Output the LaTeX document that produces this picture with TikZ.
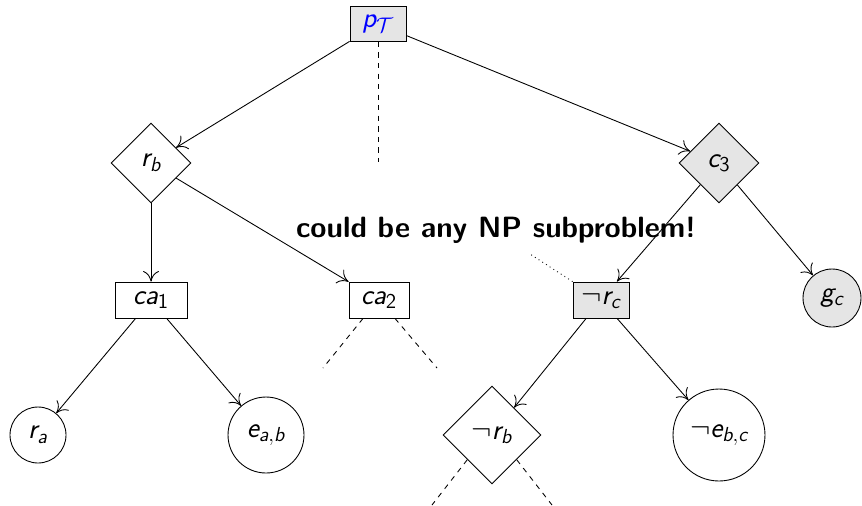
\documentclass[tikz,border=0pt]{standalone}
\usepackage{amssymb}
\usetikzlibrary{shapes.geometric, arrows.meta}

\DeclareMathAlphabet{\mathsfit}{\encodingdefault}{\sfdefault}{m}{sl}
\newcommand{\sv}[1]{\mathsfit{#1}}

\tikzset{
  lbl/.style={font=\fontsize{16.5}{20}\selectfont},
  sq/.style={draw, rectangle, minimum height=0.72cm, inner sep=1pt, lbl},
  dia/.style={draw, diamond, aspect=1, inner sep=0pt, lbl},
  leaf/.style={draw, circle, inner sep=0pt, lbl},
  shade/.style={fill=gray!20},
  edge/.style={->, >={Computer Modern Rightarrow[length=6pt,width=9pt]}}
}

\begin{document}
\begin{tikzpicture}[x=0.02cm, y=-0.02cm, line width=0.5pt]
	\useasboundingbox (0,0) rectangle (862,505);
	
	% top
	\node[sq, shade, minimum width=1.12cm, minimum height=0.7cm, text=blue] (pT) at (378,24) {$\sv{p}_{\mathcal{T}}$};
	\coordinate (pTend) at (378,162);
	\draw[dashed] (pT) -- (pTend);
	
	\node[dia, minimum size=1.6cm] (rb) at (151,163) {$\sv{r}_{\sv{b}}$};
	\node[dia, shade, minimum size=1.6cm] (c3) at (719,163) {$\sv{c}_{\mathsf{3}}$};
	
	\node[font=\fontsize{16.7}{20}\selectfont\bfseries\sffamily] (note) at (496,230) {could be any NP subproblem!};
	
	% middle row
	\node[sq, minimum width=1.44cm] (ca1) at (151,300) {$\sv{ca}_{\mathsf{1}}$};
	\node[sq, minimum width=1.2cm] (ca2) at (379,300) {$\sv{ca}_{\mathsf{2}}$};
	\node[sq, shade, minimum width=1.12cm] (nrc) at (601,300) {$\neg \sv{r}_{\sv{c}}$};
	\node[leaf, shade, minimum size=1.16cm] (gc) at (832,298) {$\sv{g}_{\sv{c}}$};
	
	% bottom row
	\node[leaf, minimum size=1.12cm] (ra) at (38,435) {$\sv{r}_{\sv{a}}$};
	\node[leaf, minimum size=1.52cm] (eab) at (266,435) {$\sv{e}_{\sv{a},\sv{b}}$};
	\node[dia, minimum size=1.96cm] (nrb) at (492,435) {$\neg \sv{r}_{\sv{b}}$};
	\node[leaf, minimum size=1.84cm] (nebc) at (719,435) {$\neg \sv{e}_{\sv{b},\sv{c}}$};
	
	\draw[edge] (pT) -- (rb);
	\draw[edge] (pT) -- (c3);
	\draw[edge] (rb) -- (ca1);
	\draw[edge] (rb) -- (ca2);
	\draw[edge] (c3) -- (nrc);
	\draw[edge] (c3) -- (gc);
	\draw[edge] (ca1) -- (ra);
	\draw[edge] (ca1) -- (eab);
	\draw[edge] (nrc) -- (nrb);
	\draw[edge] (nrc) -- (nebc);
	
	% unexplored branches
	\coordinate (ca2l) at (323,368);
	\coordinate (ca2r) at (437,368);
	\draw[dashed] (ca2.south) ++(-16,0) -- (ca2l);
	\draw[dashed] (ca2.south) ++(16,0) -- (ca2r);
	\coordinate (nrbl) at (432,505);
	\coordinate (nrbr) at (552,505);
	\draw[dashed] (nrb.south west) -- (nrbl);
	\draw[dashed] (nrb.south east) -- (nrbr);
	\coordinate (dotend) at (530,254);
	\draw[dotted] (nrc.north west) -- (dotend);
\end{tikzpicture}
\end{document}
